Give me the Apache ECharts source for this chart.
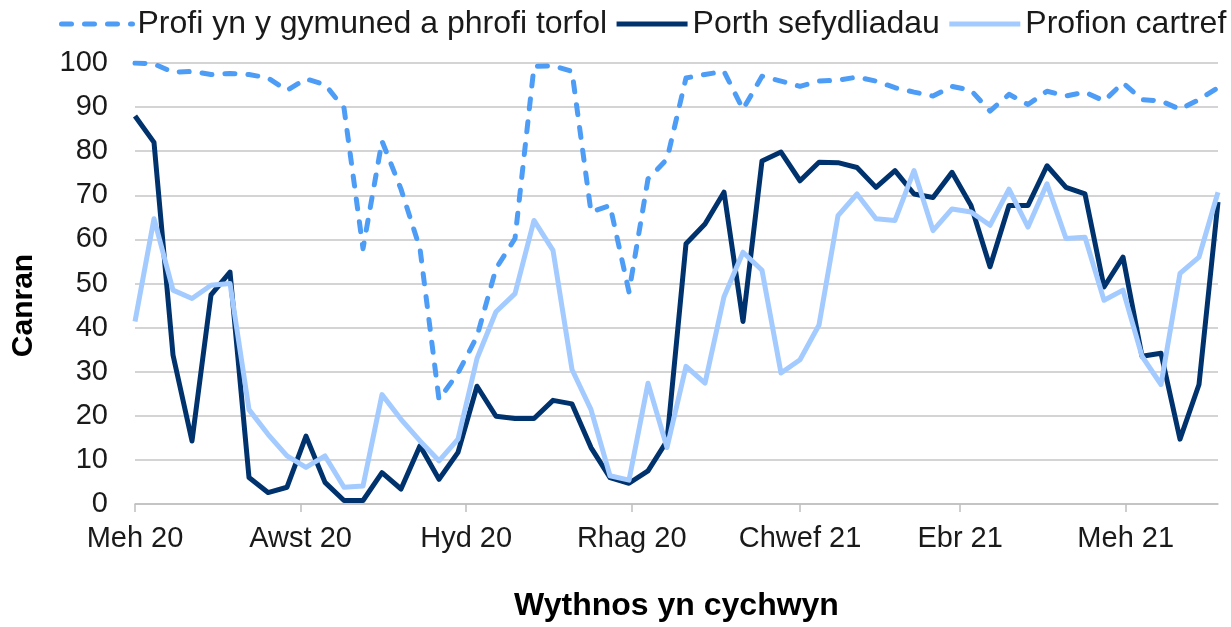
<!DOCTYPE html>
<html>
<head>
<meta charset="utf-8">
<script src="https://cdn.jsdelivr.net/npm/echarts@6/dist/echarts.min.js"></script>
<style>
html,body{margin:0;padding:0;background:#fff;}
#chart{width:1231px;height:627px;}
</style>
</head>
<body>
<div id="chart"></div>
<script>
// Week starting dates (weekly)
const weekStarts = [
  '2020-06-01','2020-06-08','2020-06-15','2020-06-22','2020-06-29',
  '2020-07-06','2020-07-13','2020-07-20','2020-07-27',
  '2020-08-03','2020-08-10','2020-08-17','2020-08-24','2020-08-31',
  '2020-09-07','2020-09-14','2020-09-21','2020-09-28',
  '2020-10-05','2020-10-12','2020-10-19','2020-10-26',
  '2020-11-02','2020-11-09','2020-11-16','2020-11-23','2020-11-30',
  '2020-12-07','2020-12-14','2020-12-21','2020-12-28',
  '2021-01-04','2021-01-11','2021-01-18','2021-01-25',
  '2021-02-01','2021-02-08','2021-02-15','2021-02-22',
  '2021-03-01','2021-03-08','2021-03-15','2021-03-22','2021-03-29',
  '2021-04-05','2021-04-12','2021-04-19','2021-04-26',
  '2021-05-03','2021-05-10','2021-05-17','2021-05-24','2021-05-31',
  '2021-06-07','2021-06-14','2021-06-21','2021-06-28',
  '2021-07-05'
];

const seriesNames = ['Profi yn y gymuned a phrofi torfol', 'Porth sefydliadau', 'Profion cartref'];

// Profi yn y gymuned a phrofi torfol (dashed)
const communityTesting = [
  100, 99.8, 97.9, 98.1, 97.4, 97.6, 97.4, 96.6, 93.8, 96.4,
  95.1, 89.8, 57.9, 82.3, 71.4, 57.9, 23.7, 29.7, 38.0, 53.4,
  60.2, 99.2, 99.4, 98.1, 66.2, 67.7, 48.1, 73.7, 78.2, 96.6,
  97.4, 98.1, 89.5, 97.0, 95.9, 94.7, 95.9, 96.1, 96.8, 95.9,
  94.4, 93.4, 92.5, 94.7, 93.8, 89.1, 92.9, 90.6, 93.6, 92.5,
  93.4, 91.4, 95.5, 91.7, 91.4, 89.5, 91.7, 94.4
];

// Porth sefydliadau (dark solid)
const institutionPortal = [
  88.0, 82.0, 33.8, 14.3, 47.4, 52.6, 6.0, 2.6, 3.8, 15.4,
  4.9, 0.8, 0.8, 7.1, 3.4, 13.2, 5.6, 11.7, 26.7, 19.9,
  19.4, 19.4, 23.5, 22.7, 12.8, 6.0, 4.7, 7.5, 14.3, 59.0,
  63.5, 70.7, 41.4, 77.8, 79.8, 73.3, 77.5, 77.4, 76.3, 71.8,
  75.6, 70.3, 69.5, 75.2, 67.7, 53.8, 67.7, 67.7, 76.7, 71.8,
  70.3, 49.2, 56.0, 33.5, 34.2, 14.7, 27.1, 68.5
];

// Profion cartref (light solid)
const homeTests = [
  41.4, 64.7, 48.5, 46.6, 49.6, 50.0, 21.4, 15.8, 10.9, 8.3,
  10.9, 3.8, 4.1, 24.8, 19.2, 14.3, 9.8, 14.7, 33.0, 43.6,
  47.7, 64.3, 57.5, 30.5, 21.4, 6.4, 5.4, 27.4, 12.8, 31.2,
  27.4, 47.0, 57.1, 53.0, 29.7, 32.7, 40.6, 65.4, 70.3, 64.7,
  64.3, 75.6, 62.0, 66.9, 66.2, 63.2, 71.4, 62.8, 72.6, 60.2,
  60.5, 46.2, 48.5, 33.5, 27.1, 52.3, 56.0, 70.7
];

// X axis tick dates and labels
const tickDates = ['2020-06-01','2020-08-01','2020-10-01','2020-12-01','2021-02-01','2021-04-01','2021-06-01'];
const tickLabels = ['Meh 20','Awst 20','Hyd 20','Rhag 20','Chwef 21','Ebr 21','Meh 21'];

const xTitle = 'Wythnos yn cychwyn';
const yTitle = 'Canran';

const colors = ['#4d9cf6', '#00336e', '#a3cbff'];
const FONT = '"Liberation Sans", Arial, sans-serif';

const toTime = d => Date.parse(d + 'T00:00:00Z');
const tickTimes = tickDates.map(toTime);
const weekTimes = weekStarts.map(toTime);

function pairs(vals) {
  return weekTimes.map((t, i) => [t, vals[i]]);
}

const chart = echarts.init(document.getElementById('chart'), null, {renderer: 'canvas'});

chart.setOption({
  animation: false,
  textStyle: {fontFamily: FONT},
  grid: {left: 135, right: 13, top: 63, bottom: 120, containLabel: false},
  legend: {
    show: true,
    left: 59,
    top: 8,
    width: 1200,
    padding: 0,
    itemWidth: 71,
    itemHeight: 28,
    itemGap: 7,
    itemStyle: {opacity: 0},
    lineStyle: {width: 5},
    textStyle: {fontSize: 32, color: '#1a1a1a', fontFamily: FONT},
    data: seriesNames
  },
  xAxis: {
    type: 'value',
    min: weekTimes[0],
    max: weekTimes[weekTimes.length - 1],
    name: xTitle,
    nameLocation: 'middle',
    nameGap: 86,
    nameTextStyle: {fontSize: 32, fontWeight: 'bold', color: '#000', fontFamily: FONT},
    axisLine: {show: true, lineStyle: {color: '#bfbfbf', width: 1.5}},
    axisTick: {show: true, customValues: tickTimes, length: 8, lineStyle: {color: '#bfbfbf', width: 1.5}},
    axisLabel: {
      customValues: tickTimes,
      fontSize: 29,
      color: '#1a1a1a',
      fontFamily: FONT,
      margin: 20,
      hideOverlap: false,
      formatter: function (val) {
        const idx = tickTimes.indexOf(val);
        return idx >= 0 ? tickLabels[idx] : '';
      }
    },
    splitLine: {show: false}
  },
  yAxis: {
    type: 'value',
    min: 0,
    max: 100,
    interval: 10,
    name: yTitle,
    nameLocation: 'middle',
    nameGap: 96,
    nameTextStyle: {fontSize: 30, fontWeight: 'bold', color: '#000', fontFamily: FONT, padding: [0, 44, 0, 0]},
    axisLine: {show: false},
    axisTick: {show: false},
    axisLabel: {fontSize: 29, color: '#1a1a1a', fontFamily: FONT, margin: 27},
    splitLine: {show: true, lineStyle: {color: '#c6c6c6', width: 1.5}}
  },
  series: [
    {
      name: seriesNames[0],
      type: 'line',
      data: pairs(communityTesting),
      symbol: 'none',
      color: colors[0],
      lineStyle: {color: colors[0], width: 5, type: [10, 13], cap: 'round', join: 'round'}
    },
    {
      name: seriesNames[1],
      type: 'line',
      data: pairs(institutionPortal),
      symbol: 'none',
      color: colors[1],
      lineStyle: {color: colors[1], width: 5, join: 'round'}
    },
    {
      name: seriesNames[2],
      type: 'line',
      data: pairs(homeTests),
      symbol: 'none',
      color: colors[2],
      lineStyle: {color: colors[2], width: 5, join: 'round'}
    }
  ]
});
</script>
</body>
</html>
